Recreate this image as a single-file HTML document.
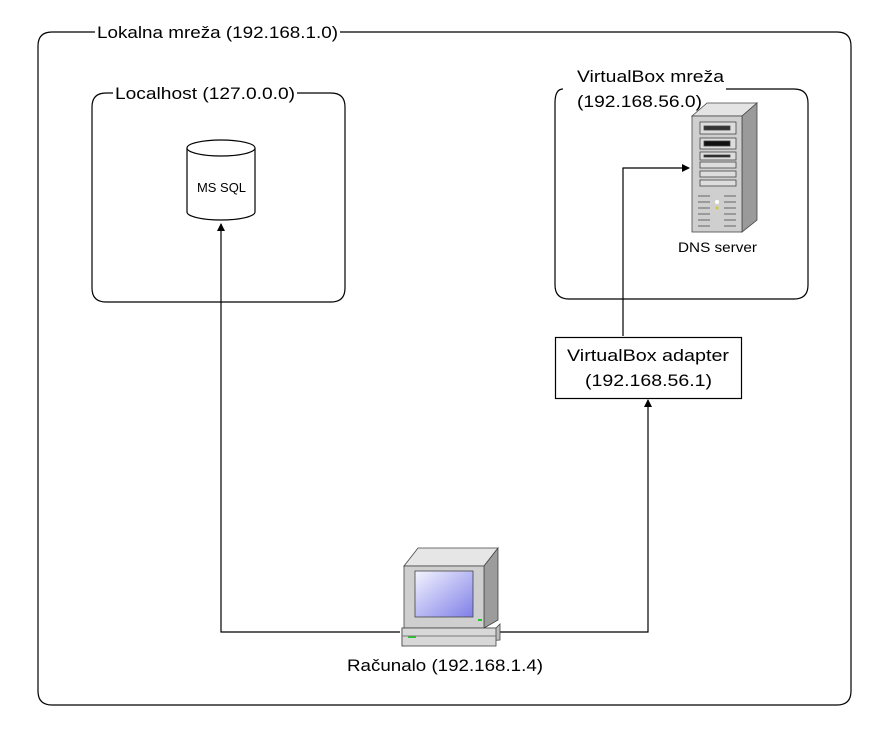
<!DOCTYPE html>
<html><head><meta charset="utf-8"><style>
html,body{margin:0;padding:0;background:#fff;}
svg{display:block;font-family:"Liberation Sans",sans-serif;}
</style></head><body>
<svg width="893" height="738" viewBox="0 0 893 738" xmlns="http://www.w3.org/2000/svg">
<defs>
<linearGradient id="scr" x1="0" y1="0" x2="1" y2="1"><stop offset="0" stop-color="#f4f4ff"/><stop offset="1" stop-color="#7f7fe8"/></linearGradient>
<marker id="ah" markerWidth="8" markerHeight="8" refX="7" refY="4" orient="auto" markerUnits="userSpaceOnUse"><path d="M0,0 L8,4 L0,8 z" fill="#000"/></marker>
</defs>
<g fill="none" stroke="#000" stroke-width="1.2">
<path d="M95,32 H52 Q38,32 38,46 V691 Q38,705 52,705 H837 Q851,705 851,691 V46 Q851,32 837,32 H340"/>
<path d="M113,93 H106 Q92,93 92,107 V288 Q92,302 106,302 H331 Q345,302 345,288 V107 Q345,93 331,93 H297"/>
<path d="M563,89 Q555,89 555,103 V285 Q555,299 569,299 H794 Q808,299 808,285 V103 Q808,89 794,89 H726"/>
<rect x="555.5" y="337.5" width="186" height="61"/>
<path d="M400,632 H221 V224" marker-end="url(#ah)"/>
<path d="M500,632 H648 V400" marker-end="url(#ah)"/>
<path d="M623,336 V168 H689" marker-end="url(#ah)"/>
<path d="M187,148 V212 A34,8 0 0 0 255,212 V148" fill="#fff"/>
<ellipse cx="221" cy="148" rx="34" ry="8" fill="#fff"/>
</g>
<g font-size="17" fill="#000" lengthAdjust="spacingAndGlyphs">
<text x="97" y="38" textLength="241" lengthAdjust="spacingAndGlyphs">Lokalna mreža (192.168.1.0)</text>
<text x="115" y="99" textLength="180" lengthAdjust="spacingAndGlyphs">Localhost (127.0.0.0)</text>
<text x="577" y="82" textLength="147" lengthAdjust="spacingAndGlyphs">VirtualBox mreža</text>
<text x="577" y="107" textLength="125" lengthAdjust="spacingAndGlyphs">(192.168.56.0)</text>
<text x="567" y="361" textLength="162" lengthAdjust="spacingAndGlyphs">VirtualBox adapter</text>
<text x="585" y="386" textLength="127" lengthAdjust="spacingAndGlyphs">(192.168.56.1)</text>
<text x="347" y="671" textLength="196" lengthAdjust="spacingAndGlyphs">Računalo (192.168.1.4)</text>
</g>
<text x="197" y="192" font-size="13" textLength="49" lengthAdjust="spacingAndGlyphs">MS SQL</text>
<text x="678" y="252" font-size="14" textLength="79" lengthAdjust="spacingAndGlyphs">DNS server</text>
<g stroke="#444" stroke-width="0.8">
<polygon points="692,116 707,103 757,103 742,116" fill="#e4e4e4"/>
<polygon points="742,116 757,103 757,220 742,232" fill="#9a9a9a"/>
<rect x="692" y="116" width="50" height="116" fill="#cfcfcf"/>
<rect x="700" y="122" width="36" height="12" fill="#ddd"/>
<rect x="704" y="126" width="26" height="4" fill="#333"/>
<rect x="700" y="138" width="36" height="11" fill="#ddd"/>
<rect x="704" y="141" width="26" height="5" fill="#111"/>
<rect x="700" y="152" width="36" height="8" fill="#ddd"/>
<rect x="704" y="155" width="26" height="2" fill="#222"/>
<rect x="700" y="162" width="36" height="6" fill="#ddd"/>
<rect x="700" y="171" width="36" height="6" fill="#ddd"/>
<rect x="700" y="180" width="36" height="6" fill="#ddd"/>
</g>
<g stroke="#888" stroke-width="1.5">
<path d="M698,196 H710 M724,196 H736 M698,202 H710 M724,202 H736 M698,208 H710 M724,208 H736 M698,214 H710 M724,214 H736 M698,220 H710 M724,220 H736 M698,226 H710 M724,226 H736"/>
</g>
<circle cx="717" cy="202" r="2" fill="#fff"/><circle cx="717" cy="208" r="1.5" fill="#cc3"/>
<g stroke="#444" stroke-width="0.8">
<polygon points="404,566 418,548 498,548 484,566" fill="#e6e6e6"/>
<polygon points="484,566 498,548 498,620 484,628" fill="#9c9c9c"/>
<rect x="404" y="566" width="80" height="62" fill="#cfcfcf"/>
<rect x="415" y="571" width="58" height="46" fill="url(#scr)"/>
<polygon points="402,628 496,628 500,624 500,640 402,646" fill="#bdbdbd"/>
<rect x="402" y="628" width="94" height="18" fill="#d8d8d8"/>
</g>
<rect x="478" y="619" width="4" height="2" fill="#2c2"/>
<rect x="408" y="636" width="8" height="2" fill="#2c2"/>
<line x1="402" y1="636" x2="496" y2="636" stroke="#777"/>
</svg>
</body></html>
